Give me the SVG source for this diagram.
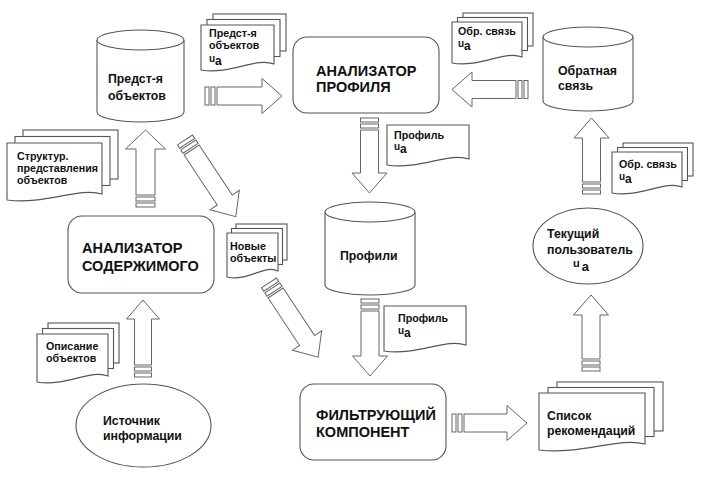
<svg xmlns="http://www.w3.org/2000/svg" width="720" height="477" viewBox="0 0 720 477">
<style>
.sh{fill:#fff;stroke:#555;stroke-width:1.1}
.ar{fill:#fff;stroke:#666;stroke-width:1}
text{font-family:"Liberation Sans",Arial,sans-serif;font-weight:bold;fill:#111}
.big{font-size:14.5px}
.mid{font-size:12.3px}
.sm{font-size:10.7px}
.u{font-size:10px}
.a{font-size:12px}
</style>
<rect width="720" height="477" fill="#fff"/>
<g id="connectors">
  <g transform="translate(205,96)"><rect class="ar" x="0" y="-9" width="4" height="18"/><rect class="ar" x="6" y="-9" width="4" height="18"/><path class="ar" d="M12,-9 H57 V-17.5 L77,0 L57,17.5 V9 H12 Z"/></g>
  <g transform="translate(528,89.5) rotate(180)"><rect class="ar" x="0" y="-9" width="4" height="18"/><rect class="ar" x="6" y="-9" width="4" height="18"/><path class="ar" d="M12,-9 H56 V-17.5 L76,0 L56,17.5 V9 H12 Z"/></g>
  <g transform="translate(369.5,118) rotate(90)"><rect class="ar" x="0" y="-9" width="4" height="18"/><rect class="ar" x="6" y="-9" width="4" height="18"/><path class="ar" d="M12,-9 H55 V-17.5 L75,0 L55,17.5 V9 H12 Z"/></g>
  <g transform="translate(370,299) rotate(90)"><rect class="ar" x="0" y="-9" width="4" height="18"/><rect class="ar" x="6" y="-9" width="4" height="18"/><path class="ar" d="M12,-9 H57 V-17.5 L77,0 L57,17.5 V9 H12 Z"/></g>
  <g transform="translate(452,423)"><rect class="ar" x="0" y="-9" width="4" height="18"/><rect class="ar" x="6" y="-9" width="4" height="18"/><path class="ar" d="M12,-9 H55 V-17.5 L75,0 L55,17.5 V9 H12 Z"/></g>
  <g transform="translate(591,371) rotate(-90)"><rect class="ar" x="0" y="-9" width="4" height="18"/><rect class="ar" x="6" y="-9" width="4" height="18"/><path class="ar" d="M12,-9 H56 V-17.5 L76,0 L56,17.5 V9 H12 Z"/></g>
  <g transform="translate(591.5,194) rotate(-90)"><rect class="ar" x="0" y="-9" width="4" height="18"/><rect class="ar" x="6" y="-9" width="4" height="18"/><path class="ar" d="M12,-9 H56 V-17.5 L76,0 L56,17.5 V9 H12 Z"/></g>
  <g transform="translate(145.5,207) rotate(-90)"><rect class="ar" x="0" y="-9.5" width="4" height="19"/><rect class="ar" x="6" y="-9.5" width="4" height="19"/><path class="ar" d="M12,-9.5 H58 V-20 L77,0 L58,20 V9.5 H12 Z"/></g>
  <g transform="translate(143,377) rotate(-90)"><rect class="ar" x="0" y="-8.5" width="4" height="17"/><rect class="ar" x="6" y="-8.5" width="4" height="17"/><path class="ar" d="M12,-8.5 H58 V-16.5 L77,0 L58,16.5 V8.5 H12 Z"/></g>
  <g transform="translate(185,140) rotate(56.5)"><rect class="ar" x="0" y="-9" width="4" height="18"/><rect class="ar" x="6" y="-9" width="4" height="18"/><path class="ar" d="M12,-9 H72 V-17.5 L92,0 L72,17.5 V9 H12 Z"/></g>
  <g transform="translate(269,283) rotate(56.5)"><rect class="ar" x="0" y="-9" width="4" height="18"/><rect class="ar" x="6" y="-9" width="4" height="18"/><path class="ar" d="M12,-9 H69 V-17.5 L89,0 L69,17.5 V9 H12 Z"/></g>
</g>
<g id="db-objects">
  <path class="sh" d="M97,40 V112 A43.5,10 0 0 0 184,112 V40"/>
  <ellipse class="sh" cx="140.5" cy="40" rx="43.5" ry="10"/>
  <text class="mid" x="108" y="83">Предст-я</text>
  <text class="mid" x="108" y="100">объектов</text>
</g>
<g id="doc-objects-ua">
  <rect class="sh" x="213" y="14" width="73" height="37"/>
  <rect class="sh" x="207" y="19.5" width="73" height="37"/>
  <path class="sh" d="M201,25 H274 V64 C255.8,57 230.2,75 201,70 Z"/>
  <text class="sm" x="209" y="37">Предст-я</text>
  <text class="sm" x="209" y="49">объектов</text>
  <text x="209" y="62"><tspan class="u">u</tspan><tspan class="a" dy="3">a</tspan></text>
</g>
<g id="profile-analyzer">
  <rect class="sh" x="293" y="37" width="146" height="76" rx="14"/>
  <text class="big" x="316" y="76">АНАЛИЗАТОР</text>
  <text class="big" x="316" y="92">ПРОФИЛЯ</text>
</g>
<g id="doc-feedback-top">
  <rect class="sh" x="463" y="13" width="70" height="33"/>
  <rect class="sh" x="457.5" y="17.5" width="70" height="33"/>
  <path class="sh" d="M452,22 H522 V57 C504.5,50 480,68 452,63 Z"/>
  <text class="sm" x="458" y="35">Обр. связь</text>
  <text x="458" y="47"><tspan class="u">u</tspan><tspan class="a" dy="3">a</tspan></text>
</g>
<g id="db-feedback">
  <path class="sh" d="M543,37 V101 A45,10 0 0 0 633,101 V37"/>
  <ellipse class="sh" cx="588" cy="37" rx="45" ry="10"/>
  <text class="mid" x="558" y="75">Обратная</text>
  <text class="mid" x="558" y="90">связь</text>
</g>
<g id="doc-profile-top">
  <path class="sh" d="M387,125 H469 V159 C448.5,152 419.8,170 387,165 Z"/>
  <text class="sm" x="394" y="138.5">Профиль</text>
  <text x="394" y="150"><tspan class="u">u</tspan><tspan class="a" dy="3">a</tspan></text>
</g>
<g id="doc-feedback-right">
  <rect class="sh" x="623" y="143" width="70" height="33"/>
  <rect class="sh" x="617.5" y="147.5" width="70" height="33"/>
  <path class="sh" d="M612,152 H682 V187 C664.5,180 640,198 612,193 Z"/>
  <text class="sm" x="619" y="168">Обр. связь</text>
  <text x="619" y="180"><tspan class="u">u</tspan><tspan class="a" dy="3">a</tspan></text>
</g>
<g id="doc-structured">
  <rect class="sh" x="23" y="130" width="95" height="49"/>
  <rect class="sh" x="15" y="136.5" width="95" height="49"/>
  <path class="sh" d="M7,143 H102 V194 C78.3,187 45,205 7,200 Z"/>
  <text class="sm" x="17" y="159.5">Структур.</text>
  <text class="sm" x="17" y="171.5">представления</text>
  <text class="sm" x="17" y="183.5">объектов</text>
</g>
<g id="content-analyzer">
  <rect class="sh" x="68" y="216" width="146" height="77" rx="14"/>
  <text class="big" x="82" y="253">АНАЛИЗАТОР</text>
  <text class="big" x="82" y="270.5">СОДЕРЖИМОГО</text>
</g>
<g id="doc-new-objects">
  <rect class="sh" x="236" y="224" width="51" height="36"/>
  <rect class="sh" x="231.5" y="228.5" width="51" height="36"/>
  <path class="sh" d="M227,233 H278 V271 C265.3,264 247.4,282 227,277 Z"/>
  <text class="sm" x="230" y="250">Новые</text>
  <text class="sm" x="230" y="261.5">объекты</text>
</g>
<g id="db-profiles">
  <path class="sh" d="M325,212 V285 A45,10 0 0 0 415,285 V212"/>
  <ellipse class="sh" cx="370" cy="212" rx="45" ry="10"/>
  <text class="mid" x="340" y="260">Профили</text>
</g>
<g id="current-user">
  <ellipse class="sh" cx="588" cy="246" rx="55" ry="38"/>
  <text class="mid" x="547" y="238">Текущий</text>
  <text class="mid" x="547" y="254">пользователь</text>
  <text x="573" y="267"><tspan font-size="11px">u</tspan><tspan font-size="13px" dx="2" dy="4">a</tspan></text>
</g>
<g id="doc-profile-bottom">
  <path class="sh" d="M384,306 H466 V345 C445.5,338 416.8,356 384,351 Z"/>
  <text class="sm" x="398" y="321.5">Профиль</text>
  <text x="398" y="333.5"><tspan class="u">u</tspan><tspan class="a" dy="3.5">a</tspan></text>
</g>
<g id="doc-description">
  <rect class="sh" x="48" y="323" width="71" height="40"/>
  <rect class="sh" x="42.5" y="328.5" width="71" height="40"/>
  <path class="sh" d="M37,334 H108 V376 C90.3,369 65.4,387 37,382 Z"/>
  <text class="sm" x="46" y="350">Описание</text>
  <text class="sm" x="46" y="362">объектов</text>
</g>
<g id="source">
  <ellipse class="sh" cx="143.5" cy="425.5" rx="67.5" ry="41.5"/>
  <text class="mid" x="103" y="425">Источник</text>
  <text class="mid" x="103" y="440">информации</text>
</g>
<g id="filter">
  <rect class="sh" x="300" y="384" width="146" height="76" rx="14"/>
  <text class="big" x="316" y="420">ФИЛЬТРУЮЩИЙ</text>
  <text class="big" x="316" y="437">КОМПОНЕНТ</text>
</g>
<g id="doc-recommendations">
  <rect class="sh" x="557" y="382" width="106" height="49"/>
  <rect class="sh" x="548" y="387.5" width="106" height="49"/>
  <path class="sh" d="M539,393 H645 V444 C618.5,437 581.4,455 539,450 Z"/>
  <text class="mid" x="547" y="420">Список</text>
  <text class="mid" x="547" y="435">рекомендаций</text>
</g>
</svg>
